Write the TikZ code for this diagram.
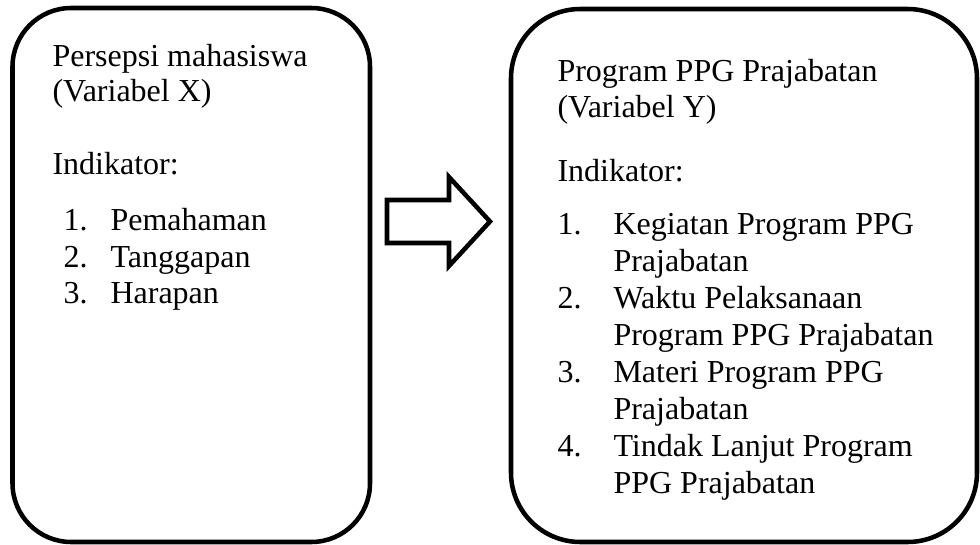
\documentclass[tikz,border=0pt]{standalone}
\usepackage{fontspec}
\setmainfont{Liberation Serif}
\usetikzlibrary{positioning,fit}

\tikzset{
	kotak/.style={draw, line width=1.7pt, rounded corners=#1, inner sep=0pt},
	teks/.style={anchor=base west, inner sep=0pt, font=\fontsize{12}{14}\selectfont},
	panah/.style={draw, line width=1.7pt, line join=miter},
}

\begin{document}
\begin{tikzpicture}[x=0.375pt, y=-0.375pt]
	\useasboundingbox (0,0) rectangle (980,545);

	% the two boxes
	\node[kotak=22pt, fit={(12.5,8) (370,542)}] (persepsi) {};
	\node[kotak=26pt, fit={(511,9) (977,542)}] (ppg) {};

	% variabel X
	\node[teks] (x-judul) at (52,67) {Persepsi mahasiswa};
	\node[teks] (x-var) at (52,102) {(Variabel X)};
	\node[teks] (x-ind) at (52,175) {Indikator:};
	\foreach \isi [count=\i] in {Pemahaman, Tanggapan, Harapan} {
		\node[teks] (x-no\i) at (63,{194.5+36.5*\i}) {\i.};
		\node[teks] (x-\i) at (110,{194.5+36.5*\i}) {\isi};
	}

	% variabel Y
	\node[teks] (y-judul) at (557,82) {Program PPG Prajabatan};
	\node[teks] (y-var) at (557,118) {(Variabel Y)};
	\node[teks] (y-ind) at (557,182) {Indikator:};
	\foreach \nomor/\baris in {1/1, 2/3, 3/5, 4/7}
		\node[teks] (y-no\nomor) at (557,{198.1+36.9*\baris}) {\nomor.};
	\foreach \isi [count=\i] in {Kegiatan Program PPG, Prajabatan, Waktu Pelaksanaan,
		Program PPG Prajabatan, Materi Program PPG, Prajabatan,
		Tindak Lanjut Program, PPG Prajabatan}
		\node[teks] (y-\i) at (613,{198.1+36.9*\i}) {\isi};

	% block arrow X -> Y
	\coordinate (ekor) at (387,221.5);
	\draw[panah] (ekor) ++(0,-21.5) -- ++(62,0) -- ++(0,-23) -- (490,221.5)
		-- (449,266) -- ++(0,-23) -- ++(-62,0) -- cycle;
\end{tikzpicture}
\end{document}
